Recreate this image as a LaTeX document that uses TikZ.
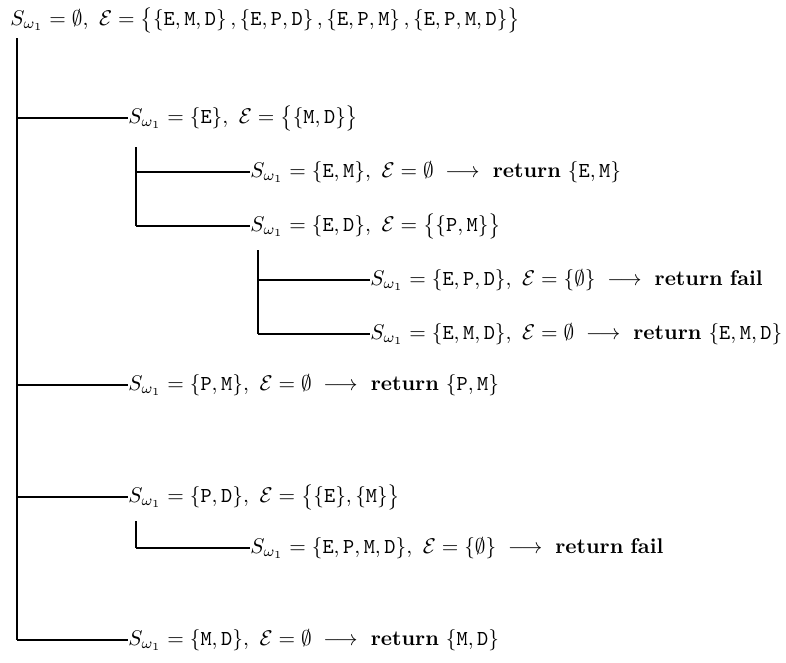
\documentclass[tikz,border=0pt]{standalone}
\usepackage{amsmath, amssymb}
\usetikzlibrary{positioning}
\newcommand{\Sw}{S_{\omega_1}}
\newcommand{\Rt}{\;\longrightarrow\ \text{\textbf{return}}\ }
\begin{document}
\begin{tikzpicture}[
				x=0.47pt, y=-0.47pt,
				st/.style={anchor=west, inner sep=0pt, font=\normalsize},
				trunk/.style={line width=1.2pt},
				twig/.style={line width=0.7pt}
				]
				\useasboundingbox (0,0) rectangle (786,662);
				% states
				\node[st] (root) at (10,20) {$\Sw=\emptyset,\ \mathcal{E}=\big\{\{\mathtt{E,M,D}\}\,,\{\mathtt{E,P,D}\}\,,\{\mathtt{E,P,M}\}\,,\{\mathtt{E,P,M,D}\}\big\}$};
				\node[st] (n1) at (128,118) {$\Sw=\{\mathtt{E}\},\ \mathcal{E}=\big\{\{\mathtt{M,D}\}\big\}$};
				\node[st] (n11) at (250,172) {$\Sw=\{\mathtt{E,M}\},\ \mathcal{E}=\emptyset\Rt\{\mathtt{E,M}\}$};
				\node[st] (n12) at (250,226) {$\Sw=\{\mathtt{E,D}\},\ \mathcal{E}=\big\{\{\mathtt{P,M}\}\big\}$};
				\node[st] (n121) at (370,280) {$\Sw=\{\mathtt{E,P,D}\},\ \mathcal{E}=\{\emptyset\}\Rt\text{\textbf{fail}}$};
				\node[st] (n122) at (370,334) {$\Sw=\{\mathtt{E,M,D}\},\ \mathcal{E}=\emptyset\Rt\{\mathtt{E,M,D}\}$};
				\node[st] (n2) at (128,385) {$\Sw=\{\mathtt{P,M}\},\ \mathcal{E}=\emptyset\Rt\{\mathtt{P,M}\}$};
				\node[st] (n3) at (128,497) {$\Sw=\{\mathtt{P,D}\},\ \mathcal{E}=\big\{\{\mathtt{E}\},\{\mathtt{M}\}\big\}$};
				\node[st] (n31) at (250,548) {$\Sw=\{\mathtt{E,P,M,D}\},\ \mathcal{E}=\{\emptyset\}\Rt\text{\textbf{fail}}$};
				\node[st] (n4) at (128,640) {$\Sw=\{\mathtt{M,D}\},\ \mathcal{E}=\emptyset\Rt\{\mathtt{M,D}\}$};
				% tree lines
				\coordinate (t0) at (17,38);
				\coordinate (t1) at (136,147);
				\coordinate (t12) at (258,250);
				\coordinate (t3) at (136,521);
				\draw[trunk] (t0) -- (t0 |- n4.west);
				\draw[trunk] (t1) -- (t1 |- n12.west);
				\draw[trunk] (t12) -- (t12 |- n122.west);
				\draw[trunk] (t3) -- (t3 |- n31.west);
				\foreach \c in {n1,n2,n3,n4} \draw[twig] (t0 |- \c.west) -- (\c.west);
				\foreach \c in {n11,n12} \draw[twig] (t1 |- \c.west) -- (\c.west);
				\foreach \c in {n121,n122} \draw[twig] (t12 |- \c.west) -- (\c.west);
				\draw[twig] (t3 |- n31.west) -- (n31.west);
			\end{tikzpicture}
\end{document}
